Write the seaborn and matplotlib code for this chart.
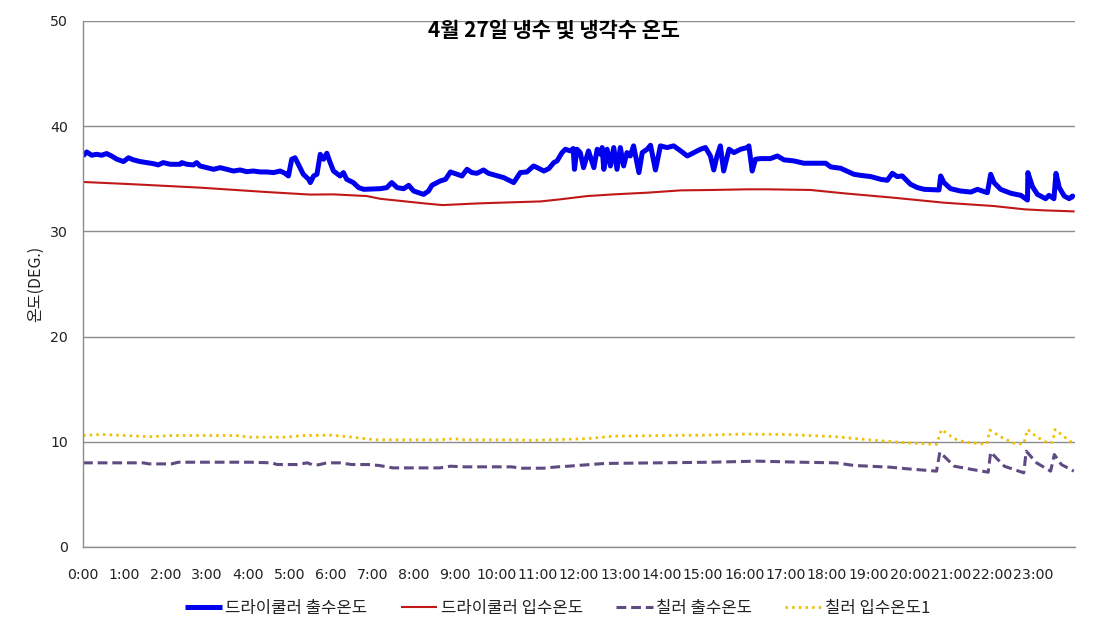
import matplotlib
matplotlib.use("Agg")
import matplotlib.pyplot as plt
import seaborn as sns
import pandas as pd

# ---------------- data (time in hours, temperature in DEG.) ----------------
title = "4월 27일 냉수 및 냉각수 온도"
ylabel = "온도(DEG.)"
series_names = ["드라이쿨러 출수온도", "드라이쿨러 입수온도", "칠러 출수온도", "칠러 입수온도1"]
hour_ticks = list(range(0, 25))
hour_labels = [f"{h}:00" for h in range(24)] + [""]
y_ticks = [0, 10, 20, 30, 40, 50]

dry_out_t = [0.00, 0.09, 0.21, 0.33, 0.45, 0.57, 0.69, 0.82, 0.98, 1.10, 1.22, 1.38, 1.54, 1.70, 1.82,
             1.94, 2.11, 2.35, 2.39, 2.51, 2.67, 2.75, 2.83, 2.99, 3.16, 3.32, 3.48, 3.64, 3.80, 3.96,
             4.12, 4.29, 4.45, 4.61, 4.77, 4.89, 4.97, 5.05, 5.13, 5.21, 5.33, 5.46, 5.50, 5.58, 5.66,
             5.74, 5.82, 5.90, 5.98, 6.06, 6.22, 6.30, 6.38, 6.46, 6.54, 6.67, 6.79, 7.19, 7.35, 7.47,
             7.60, 7.76, 7.88, 8.00, 8.24, 8.36, 8.44, 8.64, 8.77, 8.89, 9.05, 9.17, 9.29, 9.41, 9.53,
             9.69, 9.81, 9.98, 10.18, 10.34, 10.42, 10.50, 10.58, 10.74, 10.90, 10.99, 11.15, 11.27,
             11.39, 11.47, 11.59, 11.67, 11.79, 11.86, 11.89, 11.95, 12.03, 12.11, 12.23, 12.36, 12.44,
             12.52, 12.56, 12.60, 12.68, 12.76, 12.84, 12.92, 13.00, 13.08, 13.16, 13.24, 13.32, 13.45,
             13.53, 13.65, 13.73, 13.85, 13.97, 14.13, 14.29, 14.46, 14.62, 14.78, 14.94, 15.06, 15.18,
             15.26, 15.34, 15.42, 15.50, 15.63, 15.75, 15.91, 16.07, 16.11, 16.19, 16.27, 16.39, 16.63,
             16.80, 16.96, 17.20, 17.44, 17.77, 17.97, 18.09, 18.33, 18.65, 18.81, 19.06, 19.30, 19.46,
             19.58, 19.70, 19.82, 20.02, 20.19, 20.35, 20.71, 20.75, 20.83, 20.99, 21.23, 21.48, 21.64,
             21.88, 21.96, 22.04, 22.20, 22.45, 22.69, 22.85, 22.86, 22.97, 23.09, 23.29, 23.37, 23.49,
             23.54, 23.62, 23.74, 23.86, 23.94, 23.99]
dry_out_v = [37.17, 37.55, 37.24, 37.33, 37.24, 37.40, 37.17, 36.86, 36.64, 37.00, 36.80, 36.64, 36.54,
             36.44, 36.32, 36.54, 36.38, 36.38, 36.54, 36.38, 36.32, 36.54, 36.22, 36.06, 35.90, 36.06,
             35.90, 35.74, 35.84, 35.68, 35.74, 35.65, 35.65, 35.59, 35.74, 35.52, 35.27, 36.86, 37.00,
             36.38, 35.43, 34.95, 34.64, 35.27, 35.43, 37.33, 36.86, 37.43, 36.54, 35.74, 35.27, 35.59,
             34.95, 34.79, 34.64, 34.16, 34.00, 34.06, 34.16, 34.64, 34.16, 34.06, 34.38, 33.84, 33.52,
             33.84, 34.38, 34.79, 34.95, 35.65, 35.43, 35.27, 35.90, 35.59, 35.52, 35.84, 35.52, 35.33,
             35.11, 34.79, 34.64, 35.11, 35.59, 35.65, 36.22, 36.06, 35.74, 35.97, 36.54, 36.70, 37.49,
             37.81, 37.65, 37.88, 35.90, 37.81, 37.49, 36.06, 37.65, 36.06, 37.81, 37.33, 37.97, 35.90,
             37.81, 36.22, 37.97, 35.90, 37.97, 36.22, 37.49, 37.17, 38.13, 35.59, 37.49, 37.81, 38.19,
             35.84, 38.13, 37.97, 38.13, 37.65, 37.17, 37.49, 37.81, 37.97, 37.17, 35.84, 37.17, 38.13,
             35.74, 37.81, 37.49, 37.81, 37.97, 38.13, 35.74, 36.86, 36.92, 36.92, 37.17, 36.80, 36.70,
             36.48, 36.48, 36.48, 36.13, 36.00, 35.43, 35.33, 35.21, 34.95, 34.86, 35.52, 35.21, 35.27,
             34.48, 34.16, 34.00, 33.94, 35.27, 34.64, 34.06, 33.84, 33.74, 34.00, 33.68, 35.43, 34.64,
             34.00, 33.62, 33.43, 32.98, 35.59, 34.26, 33.52, 33.11, 33.43, 33.11, 35.52, 34.16, 33.36,
             33.11, 33.36, 33.20]

dry_in_t = [0.00, 1.22, 2.83, 4.45, 5.50, 6.05, 6.87, 7.19, 8.24, 8.69, 9.61, 11.07, 11.55, 12.20,
            12.84, 13.65, 14.46, 15.26, 16.07, 16.55, 17.60, 18.41, 19.62, 20.83, 22.04, 22.77, 23.25, 23.99]
dry_in_v = [34.70, 34.48, 34.16, 33.74, 33.50, 33.52, 33.36, 33.10, 32.67, 32.50, 32.67, 32.85, 33.05,
            33.36, 33.52, 33.68, 33.90, 33.94, 34.00, 34.00, 33.94, 33.62, 33.20, 32.73, 32.41, 32.10,
            32.00, 31.90]

ch_out_t = [0.00, 1.45, 1.60, 2.14, 2.31, 4.04, 4.56, 4.70, 5.17, 5.43, 5.55, 5.69, 5.90, 6.21, 6.50,
            6.90, 7.16, 7.50, 8.63, 8.89, 9.23, 10.36, 10.62, 11.14, 11.48, 11.74, 12.17, 12.61, 13.90,
            15.20, 16.32, 17.36, 18.22, 18.65, 19.52, 19.95, 20.65, 20.73, 21.08, 21.51, 21.90, 21.96,
            22.29, 22.76, 22.82, 23.07, 23.41, 23.50, 23.67, 23.97]
ch_out_v = [8.00, 8.00, 7.90, 7.90, 8.06, 8.06, 8.00, 7.84, 7.84, 8.00, 7.81, 7.81, 8.00, 8.00, 7.84,
            7.84, 7.75, 7.52, 7.52, 7.68, 7.62, 7.62, 7.49, 7.49, 7.62, 7.68, 7.81, 7.94, 8.00, 8.06,
            8.16, 8.06, 8.00, 7.75, 7.59, 7.43, 7.21, 9.02, 7.68, 7.37, 7.11, 9.02, 7.68, 7.05, 9.11,
            8.00, 7.21, 8.79, 7.84, 7.21]

ch_in_t = [0.00, 0.45, 1.00, 1.62, 2.14, 3.70, 4.04, 4.91, 5.34, 6.03, 6.64, 7.07, 8.63, 8.97, 9.23,
           10.62, 10.70, 11.31, 12.17, 12.86, 14.16, 15.03, 15.98, 17.01, 18.22, 19.09, 19.95, 20.65,
           20.77, 21.08, 21.34, 21.86, 21.94, 22.20, 22.55, 22.76, 22.85, 23.07, 23.33, 23.46, 23.52,
           23.72, 23.93]
ch_in_v = [10.60, 10.70, 10.60, 10.48, 10.60, 10.60, 10.44, 10.44, 10.60, 10.63, 10.38, 10.19, 10.19,
           10.29, 10.19, 10.19, 10.13, 10.19, 10.29, 10.54, 10.60, 10.63, 10.73, 10.70, 10.48, 10.16,
           9.90, 9.75, 11.17, 10.29, 9.97, 9.75, 11.11, 10.48, 9.81, 9.81, 11.17, 10.48, 9.90, 9.97,
           11.17, 10.54, 9.90]

# ---------------- style ----------------
sns.set_style("white")
plt.rcParams["font.family"] = ["Noto Sans CJK KR", "DejaVu Sans"]
plt.rcParams["lines.solid_capstyle"] = "butt"

grid_c = "#8c8c8c"
text_c = "#222222"
colors = ["#0000ee", "#c01818", "#5f4b82", "#f0c000"]

fig = plt.figure(figsize=(11.10, 6.33), dpi=100)
ax = fig.add_axes([83 / 1110, 1 - 547 / 633, (1075 - 83) / 1110, (547 - 21) / 633])

frames = [
    (dry_out_t, dry_out_v, dict(color=colors[0], linewidth=3.6, linestyle="-")),
    (dry_in_t, dry_in_v, dict(color=colors[1], linewidth=1.5, linestyle="-")),
    (ch_out_t, ch_out_v, dict(color=colors[2], linewidth=2.2, linestyle=(0, (3.2, 1.6)))),
    (ch_in_t, ch_in_v, dict(color=colors[3], linewidth=2.0, linestyle=(0, (0.9, 1.5)))),
]
for name, (t, v, kw) in zip(series_names, frames):
    df = pd.DataFrame({"t": t, "v": v})
    sns.lineplot(data=df, x="t", y="v", ax=ax, label=name, sort=False, **kw)

ax.set_xlim(0, 24)
ax.set_ylim(0, 50)
ax.set_xticks(hour_ticks)
ax.set_xticklabels(hour_labels)
ax.set_yticks(y_ticks)
ax.grid(axis="y", color=grid_c, linewidth=1.0)
ax.grid(axis="x", visible=False)
ax.set_axisbelow(True)
for s in ["top", "right"]:
    ax.spines[s].set_visible(False)
for s in ["left", "bottom"]:
    ax.spines[s].set_color(grid_c)
    ax.spines[s].set_linewidth(1.0)
ax.tick_params(axis="both", which="major", direction="out", length=4, width=1,
               color=grid_c, labelsize=10.2, labelcolor=text_c)
ax.tick_params(axis="x", pad=11)
ax.tick_params(axis="y", pad=7)
for lab in ax.get_xticklabels() + ax.get_yticklabels():
    lab.set_family("DejaVu Sans")
ax.set_xlabel("")
ax.set_ylabel(ylabel, fontsize=11.5, color=text_c, labelpad=4)

ax.text(0.475, 0.983, title, transform=ax.transAxes, ha="center", va="center",
        fontsize=15, fontweight="bold", color="#000000")

handles, labels = ax.get_legend_handles_labels()
ax.get_legend().remove()
fig.legend(handles, labels, loc="center", bbox_to_anchor=(558 / 1110, 1 - 608 / 633),
           ncol=4, frameon=False, fontsize=12, handlelength=2.2, handletextpad=0.2,
           columnspacing=2.0, labelcolor=text_c)

fig.savefig("out.png", dpi=100)
